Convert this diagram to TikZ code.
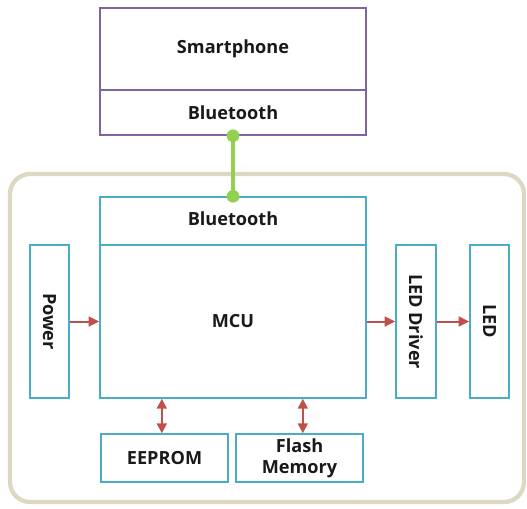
\documentclass[tikz,border=0pt]{standalone}
\usepackage{fontspec}
\setmainfont{Open Sans}
\usetikzlibrary{arrows.meta}
\definecolor{bluebox}{HTML}{4BACC6}
\definecolor{purplebox}{HTML}{8064A2}
\definecolor{redarrow}{HTML}{C0504D}
\definecolor{greenlink}{HTML}{92D050}
\definecolor{beige}{HTML}{DDD8C2}
\tikzset{
  lbl/.style={font=\fontsize{13.6}{16}\selectfont\bfseries, text=black!90},
  box/.style={draw=bluebox, line width=1.1pt, rectangle, inner sep=0pt, align=center, lbl},
  pbox/.style={box, draw=purplebox},
  arr/.style={draw=redarrow, line width=1.5pt, -{Triangle[length=8pt,width=7.5pt]}},
  darr/.style={draw=redarrow, line width=1.5pt, {Triangle[length=7.5pt,width=7.5pt]}-{Triangle[length=7.5pt,width=7.5pt]}},
  glink/.style={draw=greenlink, line width=3pt},
  gdot/.style={fill=greenlink, circle, inner sep=0pt, minimum size=9.5pt}
}
\begin{document}
\begin{tikzpicture}[x=0.75pt,y=-0.75pt]
\useasboundingbox (0,0) rectangle (527,508);
% outer board
\draw[beige, line width=3.2pt, rounded corners=15pt] (10,174) rectangle (524,502);
% smartphone
\node[pbox, minimum width=266*0.75pt, minimum height=82*0.75pt] (phone) at (233,49) {Smartphone};
\node[pbox, minimum width=266*0.75pt, minimum height=45*0.75pt] (phonebt) at (233,112.5) {Bluetooth};
% device
\node[box, minimum width=266*0.75pt, minimum height=48*0.75pt] (mcubt) at (233,221) {\raisebox{3pt}{Bluetooth}};
\node[box, minimum width=266*0.75pt, minimum height=153*0.75pt] (mcu) at (233,321.5) {MCU};
\node[box, minimum width=39*0.75pt, minimum height=153*0.75pt] (power) at (49.5,321.5) {};
\node[rotate=-90, lbl] (powertxt) at (power.center) {Power};
\node[box, minimum width=40*0.75pt, minimum height=153*0.75pt] (driver) at (416,321.5) {};
\node[rotate=-90, lbl] (drivertxt) at (driver.center) {LED Driver};
\node[box, minimum width=39*0.75pt, minimum height=153*0.75pt] (led) at (489.5,321.5) {};
\node[rotate=-90, lbl] (ledtxt) at (led.center) {LED};
\node[box, minimum width=127*0.75pt, minimum height=48*0.75pt] (eeprom) at (164.5,458) {EEPROM};
\node[box, minimum width=127*0.75pt, minimum height=48*0.75pt] (flash) at (299.5,458) {Flash\\Memory};
% connectors
\draw[arr] (power) -- (mcu);
\draw[arr] (mcu) -- (driver);
\draw[arr] (driver) -- (led);
\draw[darr] ([xshift=-2pt]eeprom.north) -- ([xshift=-2pt]eeprom.north |- mcu.south);
\draw[darr] ([xshift=2.5pt]flash.north) -- ([xshift=2.5pt]flash.north |- mcu.south);
\draw[glink] (phonebt.south) -- (mcubt.north);
\node[gdot] (dot1) at (phonebt.south) {};
\node[gdot] (dot2) at (mcubt.north) {};
\end{tikzpicture}
\end{document}
